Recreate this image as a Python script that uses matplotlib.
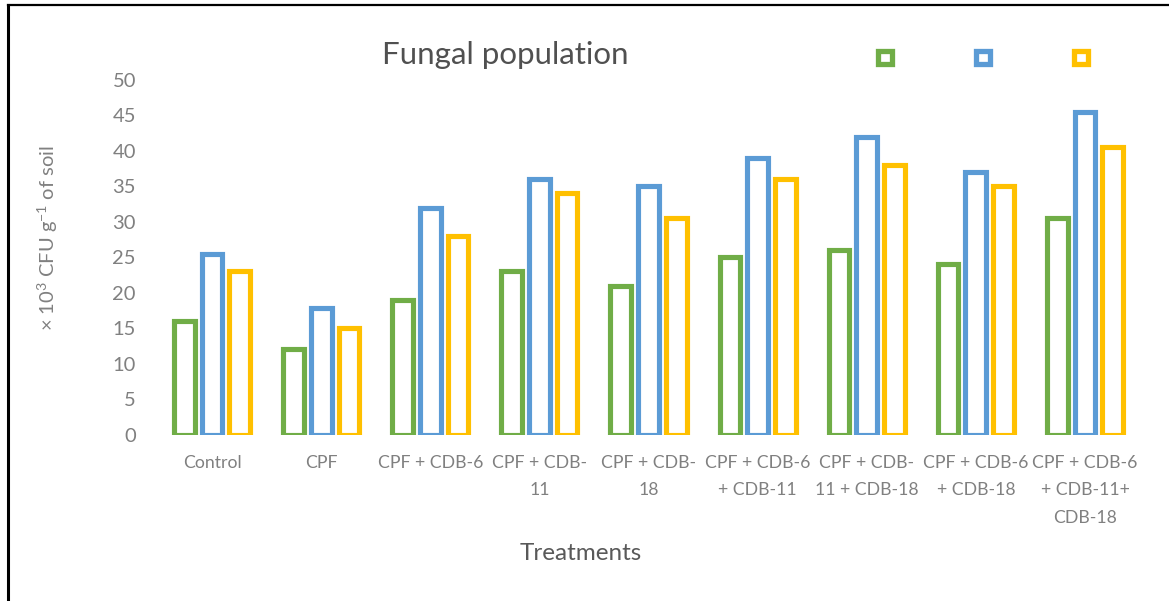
import numpy as np
import matplotlib
matplotlib.use('Agg')
import matplotlib.pyplot as plt
from matplotlib.patches import Rectangle
from matplotlib.lines import Line2D

plt.rcParams['font.family'] = ['Lato', 'DejaVu Sans']
plt.rcParams['mathtext.fontset'] = 'custom'
plt.rcParams['mathtext.rm'] = 'Lato'

TREATMENTS = ['Control', 'CPF', 'CPF + CDB-6', 'CPF + CDB-\n11', 'CPF + CDB-\n18',
              'CPF + CDB-6\n+ CDB-11', 'CPF + CDB-\n11 + CDB-18', 'CPF + CDB-6\n+ CDB-18',
              'CPF + CDB-6\n+ CDB-11+\nCDB-18']
SERIES_1 = [16, 12, 19, 23, 21, 25, 26, 24, 30.5]
SERIES_2 = [25.5, 17.8, 32, 36, 35, 39, 42, 37, 45.5]
SERIES_3 = [23, 15, 28, 34, 30.5, 36, 38, 35, 40.5]
Y_TICKS = [0, 5, 10, 15, 20, 25, 30, 35, 40, 45, 50]

COLORS = ['#70AD47', '#5B9BD5', '#FFC000']
GREY = '#808080'

fig = plt.figure(figsize=(11.69, 6.01), dpi=100)
ax = fig.add_axes([157.5/1169, 1-434.5/601, (1139.5-157.5)/1169, (434.5-80)/601])

x = np.arange(len(TREATMENTS))
step = 0.254
width = 0.19
for i, (vals, c) in enumerate(zip([SERIES_1, SERIES_2, SERIES_3], COLORS)):
    ax.bar(x + (i-1)*step, vals, width=width, facecolor='white', edgecolor=c, linewidth=3.7)

ax.set_xlim(-0.5, len(TREATMENTS)-0.5)
ax.set_ylim(0, 50)
ax.set_yticks(Y_TICKS)
ax.set_xticks(x)
ax.set_xticklabels(TREATMENTS, fontsize=12.7, color=GREY, linespacing=1.9, va='top')
ax.tick_params(axis='y', labelsize=14.5, colors=GREY, left=False, pad=12)
ax.tick_params(axis='x', bottom=False, pad=11)
for s in ax.spines.values():
    s.set_visible(False)

fig.text(48/1169, 1-238/601, r'× 10$^{3}$ CFU g$^{-1}$ of soil', rotation=90,
         ha='center', va='center', fontsize=14.5, color=GREY)
fig.text(581/1169, 1-553/601, 'Treatments', ha='center', va='center', fontsize=17.5, color='#595959')
fig.text(505/1169, 1-55/601, 'Fungal population', ha='center', va='center', fontsize=22.5,
         color='#505050')

handles = [Rectangle((0, 0), 1, 1, facecolor='white', edgecolor=c, linewidth=3.8) for c in COLORS]
fig.legend(handles, ['', '', ''], ncol=3, loc='center', bbox_to_anchor=(983/1169, 1-58/601),
           frameon=False, handlelength=1.05, handleheight=1.05, columnspacing=6.0, handletextpad=0)

# border of the original picture (left and top)
fig.add_artist(Line2D([7.5/1169, 7.5/1169], [0, 1-5/601], color='black', linewidth=2.2))
fig.add_artist(Line2D([7.5/1169, 1], [1-5/601, 1-5/601], color='black', linewidth=1.6))

fig.savefig('out.png', dpi=100)
